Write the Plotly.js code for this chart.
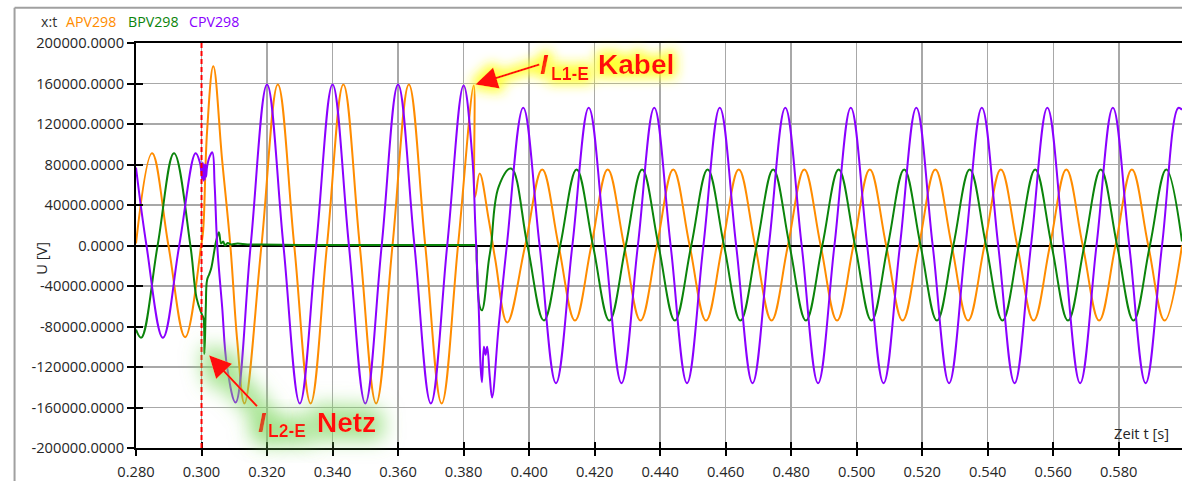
<!DOCTYPE html>
<html>
<head>
<meta charset="utf-8">
<script src="https://cdn.plot.ly/plotly-3.0.1.min.js"></script>
<style>
  html, body { margin: 0; padding: 0; background: #ffffff; }
  #chart { width: 1182px; height: 481px; }
</style>
</head>
<body>
<svg width="0" height="0" style="position:absolute">
  <defs>
    <filter id="glowYellow" x="-100%" y="-100%" width="300%" height="300%">
      <feMorphology in="SourceAlpha" operator="dilate" radius="4" result="d"/>
      <feGaussianBlur in="d" stdDeviation="6" result="b"/>
      <feFlood flood-color="#ffff20" flood-opacity="0.9"/>
      <feComposite in2="b" operator="in" result="g"/>
      <feMerge><feMergeNode in="g"/><feMergeNode in="SourceGraphic"/></feMerge>
    </filter>
    <filter id="glowGreen" x="-100%" y="-100%" width="300%" height="300%">
      <feMorphology in="SourceAlpha" operator="dilate" radius="8" result="d"/>
      <feGaussianBlur in="d" stdDeviation="10" result="b"/>
      <feFlood flood-color="#7fd860" flood-opacity="0.7"/>
      <feComposite in2="b" operator="in" result="g"/>
      <feMerge><feMergeNode in="g"/><feMergeNode in="SourceGraphic"/></feMerge>
    </filter>
  </defs>
</svg>
<div id="chart"></div>
<script>
// ---- series names / colours ----
const seriesNames = ["APV298", "BPV298", "CPV298"];
const seriesColors = ["#ff8c00", "#0b840b", "#8a00ff"];

// ---- APV298 (orange) : [t (s), U (V)] ----
const apv298 = [
  [0.2800, 2000], [0.2849, 91000], [0.2899, 0], [0.2950, -90500], [0.2999, 0],
  [0.3005, 15000], [0.3017, 113000], [0.3036, 177000], [0.3063, 84000], [0.3088, 0],
  [0.3109, -94000], [0.3131, -156000], [0.3183, 0], [0.3233, 159000], [0.3283, 0],
  [0.3333, -156000], [0.3383, 0], [0.3433, 159000], [0.3483, 0], [0.3533, -156000],
  [0.3583, 0], [0.3633, 159000], [0.3683, 0], [0.3733, -156000], [0.3783, 0],
  [0.3831, 158000], [0.3835, 48000], [0.3849, 71000], [0.3877, 25000], [0.3897, -14600],
  [0.3933, -76000], [0.3988, 0], [0.4040, 75000], [0.4090, 0], [0.4140, -74000],
  [0.4190, 0], [0.4240, 75000], [0.4290, 0], [0.4340, -74000], [0.4390, 0],
  [0.4440, 75000], [0.4490, 0], [0.4540, -74000], [0.4590, 0], [0.4640, 75000],
  [0.4690, 0], [0.4740, -74000], [0.4790, 0], [0.4840, 75000], [0.4890, 0],
  [0.4940, -74000], [0.4990, 0], [0.5040, 75000], [0.5090, 0], [0.5140, -74000],
  [0.5190, 0], [0.5240, 75000], [0.5290, 0], [0.5340, -74000], [0.5390, 0],
  [0.5440, 75000], [0.5490, 0], [0.5540, -74000], [0.5590, 0], [0.5640, 75000],
  [0.5690, 0], [0.5740, -74000], [0.5790, 0], [0.5840, 75000], [0.5890, 0],
  [0.5940, -74000], [0.5993, 0]
];

// ---- BPV298 (green) ----
const bpv298 = [
  [0.2800, -83000], [0.2816, -91000], [0.2866, 0], [0.2916, 91000], [0.2966, 0],
  [0.2985, -52000], [0.3001, -68000], [0.3006, -72000], [0.3009, -107000], [0.3013, -62000],
  [0.3017, -34000], [0.3024, -28000], [0.3030, -22000], [0.3045, 5000], [0.3053, 13000],
  [0.3060, 2000], [0.3066, 4000], [0.3072, 0], [0.3080, 2500], [0.3090, 1000],
  [0.3110, 2000], [0.3140, 1000], [0.3180, 1000], [0.3300, 500], [0.3500, 500],
  [0.3700, 500], [0.3820, 500], [0.3830, 500], [0.3838, 0], [0.3840, -15000], [0.3849, -60000],
  [0.3856, -64000], [0.3877, -14600], [0.3884, 0], [0.3907, 58000], [0.3945, 76000], [0.3995, 0],
  [0.4045, -74000], [0.4095, 0], [0.4145, 75000], [0.4195, 0], [0.4245, -74000],
  [0.4295, 0], [0.4345, 75000], [0.4395, 0], [0.4445, -74000], [0.4495, 0],
  [0.4545, 75000], [0.4595, 0], [0.4645, -74000], [0.4695, 0], [0.4745, 75000],
  [0.4795, 0], [0.4845, -74000], [0.4895, 0], [0.4945, 75000], [0.4995, 0],
  [0.5045, -74000], [0.5095, 0], [0.5145, 75000], [0.5195, 0], [0.5245, -74000],
  [0.5295, 0], [0.5345, 75000], [0.5395, 0], [0.5445, -74000], [0.5495, 0],
  [0.5545, 75000], [0.5595, 0], [0.5645, -74000], [0.5695, 0], [0.5745, 75000],
  [0.5795, 0], [0.5845, -74000], [0.5895, 0], [0.5945, 75000], [0.5993, 4000]
];

// ---- CPV298 (purple) ----
const cpv298 = [
  [0.2800, 77000], [0.2832, 0], [0.2882, -91000], [0.2932, 0], [0.2982, 91000],
  [0.2995, 82000], [0.3002, 66000], [0.3004, 82000], [0.3006, 64000], [0.3008, 80000],
  [0.3010, 65000], [0.3012, 80000], [0.3014, 68000], [0.3017, 78000], [0.3025, 88000],
  [0.3033, 92000], [0.3040, 60000], [0.3048, 0], [0.3063, -60700], [0.3078, -120000],
  [0.3104, -155000], [0.3150, 0], [0.3200, 159000], [0.3250, 0], [0.3300, -156000],
  [0.3350, 0], [0.3400, 159000], [0.3450, 0], [0.3500, -156000], [0.3550, 0],
  [0.3600, 159000], [0.3650, 0], [0.3700, -156000], [0.3750, 0], [0.3800, 158000],
  [0.3826, 90000], [0.3836, 18000], [0.3846, -60000], [0.3852, -120000], [0.3856, -135000],
  [0.3862, -100000], [0.3867, -108000], [0.3872, -100000], [0.3880, -130000], [0.3887, -150000],
  [0.3907, -80000], [0.3932, 0], [0.3982, 136000], [0.4032, 0], [0.4082, -136000],
  [0.4132, 0], [0.4182, 136000], [0.4232, 0], [0.4282, -136000], [0.4332, 0],
  [0.4382, 136000], [0.4432, 0], [0.4482, -136000], [0.4532, 0], [0.4582, 136000],
  [0.4632, 0], [0.4682, -136000], [0.4732, 0], [0.4782, 136000], [0.4832, 0],
  [0.4882, -136000], [0.4932, 0], [0.4982, 136000], [0.5032, 0], [0.5082, -136000],
  [0.5132, 0], [0.5182, 136000], [0.5232, 0], [0.5282, -136000], [0.5332, 0],
  [0.5382, 136000], [0.5432, 0], [0.5482, -136000], [0.5532, 0], [0.5582, 136000],
  [0.5632, 0], [0.5682, -136000], [0.5732, 0], [0.5782, 136000], [0.5832, 0],
  [0.5882, -136000], [0.5932, 0], [0.5982, 136000], [0.5993, 134000]
];

// ---- axes / ticks ----
const xRange = [0.28, 0.5993];
const yRange = [-200000, 200000];
const xTickVals = [0.28, 0.30, 0.32, 0.34, 0.36, 0.38, 0.40, 0.42, 0.44, 0.46, 0.48, 0.50, 0.52, 0.54, 0.56, 0.58];
const xTickText = ["0.280", "0.300", "0.320", "0.340", "0.360", "0.380", "0.400", "0.420", "0.440", "0.460", "0.480", "0.500", "0.520", "0.540", "0.560", "0.580"];
const yTickVals = [-200000, -160000, -120000, -80000, -40000, 0, 40000, 80000, 120000, 160000, 200000];
const yTickText = ["-200000.0000", "-160000.0000", "-120000.0000", "-80000.0000", "-40000.0000", "0.0000", "40000.0000", "80000.0000", "120000.0000", "160000.0000", "200000.0000"];

// ---- events ----
const faultTimes = [0.300];
const faultSubs = ["L2-E", "L1-E"];
const faultWords = ["Netz", "Kabel"];
const faultPoints = [[0.3023, -108500], [0.3836, 159000]];

const FONT = "'Open Sans', 'Noto Sans', sans-serif";
const series = [apv298, bpv298, cpv298];
const traces = series.map((s, i) => ({
  type: "scatter", mode: "lines",
  x: s.map(p => p[0]), y: s.map(p => p[1]),
  name: seriesNames[i],
  line: { color: seriesColors[i], width: 2, shape: "spline", smoothing: 1.1 },
  hoverinfo: "skip", showlegend: false
}));
// empty trace to activate the overlay axes (inner half of crossing ticks)
traces.push({ type: "scatter", mode: "lines", x: [], y: [], xaxis: "x2", yaxis: "y2", showlegend: false, hoverinfo: "skip" });

const L = 135.5, W = 1046.5, T = 42.7, H = 405;
const px = v => (v - L) / W;
const py = v => (T + H - v) / H;

const tickFont = { family: FONT, size: 14.7, color: "#262626" };

const annotations = [];
// legend-like header (0-3)
const headTexts = ["x:t"].concat(seriesNames);
const headColors = ["#333333"].concat(seriesColors);
const headX = [38, 63, 125, 186.5];
headTexts.forEach((t, i) => annotations.push({
  xref: "paper", yref: "paper", x: px(headX[i]), y: py(21.5), xanchor: "left", yanchor: "middle",
  text: t, showarrow: false, font: { family: FONT, size: 14.2, color: headColors[i] }
}));
// axis titles (4-5)
annotations.push({ xref: "paper", yref: "paper", x: px(29), y: py(258), text: "U [V]", textangle: -90,
  showarrow: false, font: { family: FONT, size: 14.7, color: "#262626" } });
annotations.push({ xref: "paper", yref: "paper", x: px(1171), y: py(433), xanchor: "right", yanchor: "middle",
  text: "Zeit t [s]", showarrow: false, font: { family: FONT, size: 14.7, color: "#262626" } });

// fault labels: big italic I with arrow, subscript, word
const RED = "#ff1010";
const bigFont = { family: "'Liberation Sans', Arial, sans-serif", size: 28, color: RED };
const subFont = { family: "'Liberation Sans', Arial, sans-serif", size: 17.5, color: RED };
// Netz (6,7,8)
annotations.push({ x: faultPoints[0][0], y: faultPoints[0][1], xref: "x", yref: "y",
  text: "<b><i>I</i></b>", font: bigFont, xanchor: "left", yanchor: "top", borderpad: 0,
  showarrow: true, ax: 48, ay: 51, arrowcolor: RED, arrowwidth: 2.2, arrowhead: 2, arrowsize: 2, standoff: 0 });
annotations.push({ xref: "paper", yref: "paper", x: px(267), y: py(431), xanchor: "left", yanchor: "middle",
  text: "<b>" + faultSubs[0] + "</b>", showarrow: false, font: subFont, borderpad: 0 });
annotations.push({ xref: "paper", yref: "paper", x: px(316), y: py(422), xanchor: "left", yanchor: "middle",
  text: "<b>" + faultWords[0] + "</b>", showarrow: false, font: bigFont, borderpad: 0 });
// Kabel (9,10,11)
annotations.push({ x: faultPoints[1][0], y: faultPoints[1][1], xref: "x", yref: "y",
  text: "<b><i>I</i></b>", font: bigFont, xanchor: "left", yanchor: "middle", borderpad: 0,
  showarrow: true, ax: 64, ay: -20, arrowcolor: RED, arrowwidth: 2.2, arrowhead: 2, arrowsize: 2, standoff: 0 });
annotations.push({ xref: "paper", yref: "paper", x: px(550), y: py(74), xanchor: "left", yanchor: "middle",
  text: "<b>" + faultSubs[1] + "</b>", showarrow: false, font: subFont, borderpad: 0 });
annotations.push({ xref: "paper", yref: "paper", x: px(597), y: py(64), xanchor: "left", yanchor: "middle",
  text: "<b>" + faultWords[1] + "</b>", showarrow: false, font: bigFont, borderpad: 0 });

const layout = {
  width: 1182, height: 481,
  margin: { l: L, r: 1182 - L - W, t: T, b: 481 - T - H, pad: 0 },
  paper_bgcolor: "#ffffff", plot_bgcolor: "#ffffff",
  showlegend: false,
  xaxis: {
    range: xRange, tickmode: "array", tickvals: xTickVals, ticktext: xTickText,
    showgrid: true, gridcolor: "#a8a8a8", gridwidth: 1.5, zeroline: false,
    showline: true, linecolor: "#000000", linewidth: 2, mirror: true,
    ticks: "outside", ticklen: 6, tickwidth: 2, tickcolor: "#000000",
    ticklabelstandoff: 3,
    tickfont: tickFont, fixedrange: true
  },
  yaxis: {
    range: yRange, tickmode: "array", tickvals: yTickVals, ticktext: yTickText,
    showgrid: true, gridcolor: "#a8a8a8", gridwidth: 1.5,
    zeroline: true, zerolinecolor: "#000000", zerolinewidth: 2,
    showline: true, linecolor: "#000000", linewidth: 2,
    ticks: "outside", ticklen: 7, tickwidth: 2, tickcolor: "#000000",
    tickfont: tickFont, fixedrange: true
  },
  xaxis2: { overlaying: "x", anchor: "y", side: "bottom", range: xRange, tickmode: "array", tickvals: xTickVals,
    showticklabels: false, showgrid: false, zeroline: false, showline: false,
    ticks: "inside", ticklen: 6, tickwidth: 2, tickcolor: "#000000" },
  yaxis2: { overlaying: "y", anchor: "x", side: "left", range: yRange, tickmode: "array", tickvals: yTickVals,
    showticklabels: false, showgrid: false, zeroline: false, showline: false,
    ticks: "inside", ticklen: 7, tickwidth: 2, tickcolor: "#000000" },
  shapes: [
    { type: "line", xref: "x", yref: "paper", x0: faultTimes[0], x1: faultTimes[0], y0: 0, y1: 1,
      line: { color: "#ff0000", width: 2, dash: "5px,3px" } },
    { type: "line", xref: "paper", yref: "paper", x0: px(14), x1: px(14), y0: py(7.5), y1: py(490),
      line: { color: "#a0a0a0", width: 2 } },
    { type: "line", xref: "paper", yref: "paper", x0: px(14), x1: px(1190), y0: py(7.5), y1: py(7.5),
      line: { color: "#a0a0a0", width: 2 } }
  ],
  annotations: annotations
};

Plotly.newPlot("chart", traces, layout, { staticPlot: true, displayModeBar: false }).then(() => {
  const groups = document.querySelectorAll("#chart g.annotation");
  groups.forEach(g => {
    const idx = +g.getAttribute("data-index");
    if (idx >= 6 && idx <= 8) g.setAttribute("filter", "url(#glowGreen)");
    if (idx >= 9 && idx <= 11) g.setAttribute("filter", "url(#glowYellow)");
  });
});
</script>
</body>
</html>
